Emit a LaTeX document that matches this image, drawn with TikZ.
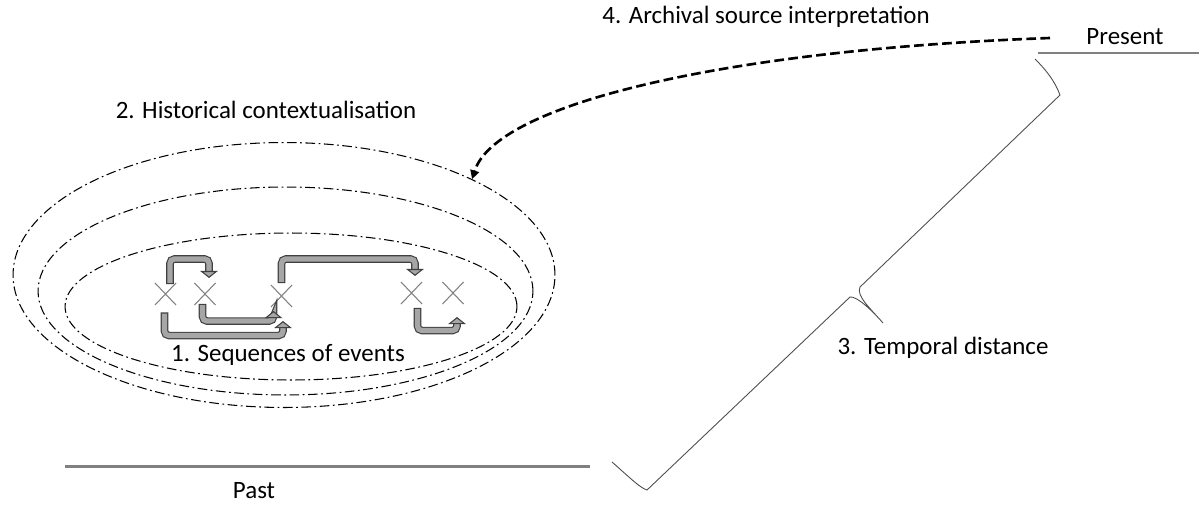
\documentclass[tikz,border=0pt]{standalone}
\usepackage{fontspec}
\setmainfont{Carlito}
\usetikzlibrary{shapes.geometric,shapes.misc,arrows.meta}
\definecolor{shaftgray}{HTML}{A6A6A6}
\definecolor{linegray}{HTML}{808080}

\begin{document}
\begin{tikzpicture}[x=0.02cm, y=-0.02cm,
  lbl/.style={font=\fontsize{14.2}{17}\selectfont, inner sep=0pt},
  ctx/.style={draw, ellipse, inner sep=0pt, line width=0.6pt, dash pattern=on 5.5pt off 2pt on 1pt off 2pt},
  event/.style={draw=linegray, cross out, line width=0.6pt, minimum width=0.4cm, minimum height=0.42cm, inner sep=0pt},
  evarrow/.style={draw=shaftgray, line width=3pt, rounded corners=2.5pt,
    preaction={draw=black!75, line width=4.3pt, arrows=-, shorten >=3.3pt, shorten <=-0.6pt},
    -{Triangle[length=4pt, width=10pt, color=black!75, fill=shaftgray, line width=0.6pt]}},
  timeline/.style={draw=linegray, line width=1.7pt}
]
\useasboundingbox (0,0) rectangle (1199,504);

% context rings
\node[ctx, minimum width=10.84cm, minimum height=5.3cm] (ctx3) at (284,275) {};
\node[ctx, minimum width=9.9cm, minimum height=4.16cm] (ctx2) at (285.5,291) {};
\node[ctx, minimum width=9.04cm, minimum height=2.94cm] (ctx1) at (291,306.5) {};

% events
\node[event] (e1) at (165.5,294) {};
\node[event] (e2) at (205,294) {};
\node[event] (e3) at (281.5,296) {};
\node[event] (e4) at (411.5,293) {};
\node[event] (e5) at (453,293) {};

% sequences
\draw[evarrow] ([xshift=0.09cm]e1.north) -- ++(0,-24) -| ([xshift=0.08cm,yshift=0.1cm]e2.north);
\draw[evarrow] ([yshift=0.06cm]e3.north) -- ++(0,-23) -| ([xshift=0.07cm,yshift=0.12cm]e4.north);
\draw[evarrow] ([xshift=-0.05cm]e2.south) -- ++(0,16) -| ([xshift=-0.16cm,yshift=-0.08cm]e3.south);
\draw[evarrow] ([xshift=-0.02cm,yshift=-0.17cm]e1.south) -- ++(0,22) -| ([xshift=0.03cm,yshift=-0.28cm]e3.south);
\draw[evarrow] ([xshift=0.12cm,yshift=-0.1cm]e4.south) -- ++(0,21.5) -| ([xshift=0.08cm,yshift=-0.26cm]e5.south);

% labels
\node[lbl] (hist) at (266,110) {2. Historical contextualisation};
\node[lbl] (seq) at (288,355) {1. Sequences of events};
\node[lbl] (arch) at (766,17) {4. Archival source interpretation};
\node[lbl] (pres) at (1125,37) {Present};
\node[lbl] (temp) at (943,348) {3. Temporal distance};
\node[lbl] (past) at (254,491) {Past};

% past and present
\draw[timeline] (65,466) -- (590,466);
\draw[timeline] (1038,53) -- (1199,53);

% temporal distance brace
\draw[black!70, line width=0.5pt] (612,462) .. controls (628,476) and (640,488) .. (647,490)
  -- (850,297) .. controls (856,296) and (870,308) .. (883,323)
  .. controls (870,308) and (856,296) .. (860,287)
  -- (1060,95) .. controls (1055,82) and (1048,72) .. (1035,59);

% interpretation
\coordinate (src) at (1050,38);
\draw[line width=1.5pt, dash pattern=on 5.5pt off 2.5pt, -{Triangle[length=5pt,width=5pt]}] (src) .. controls (720,50) and (495,105) .. (ctx3.27);
\end{tikzpicture}
\end{document}
